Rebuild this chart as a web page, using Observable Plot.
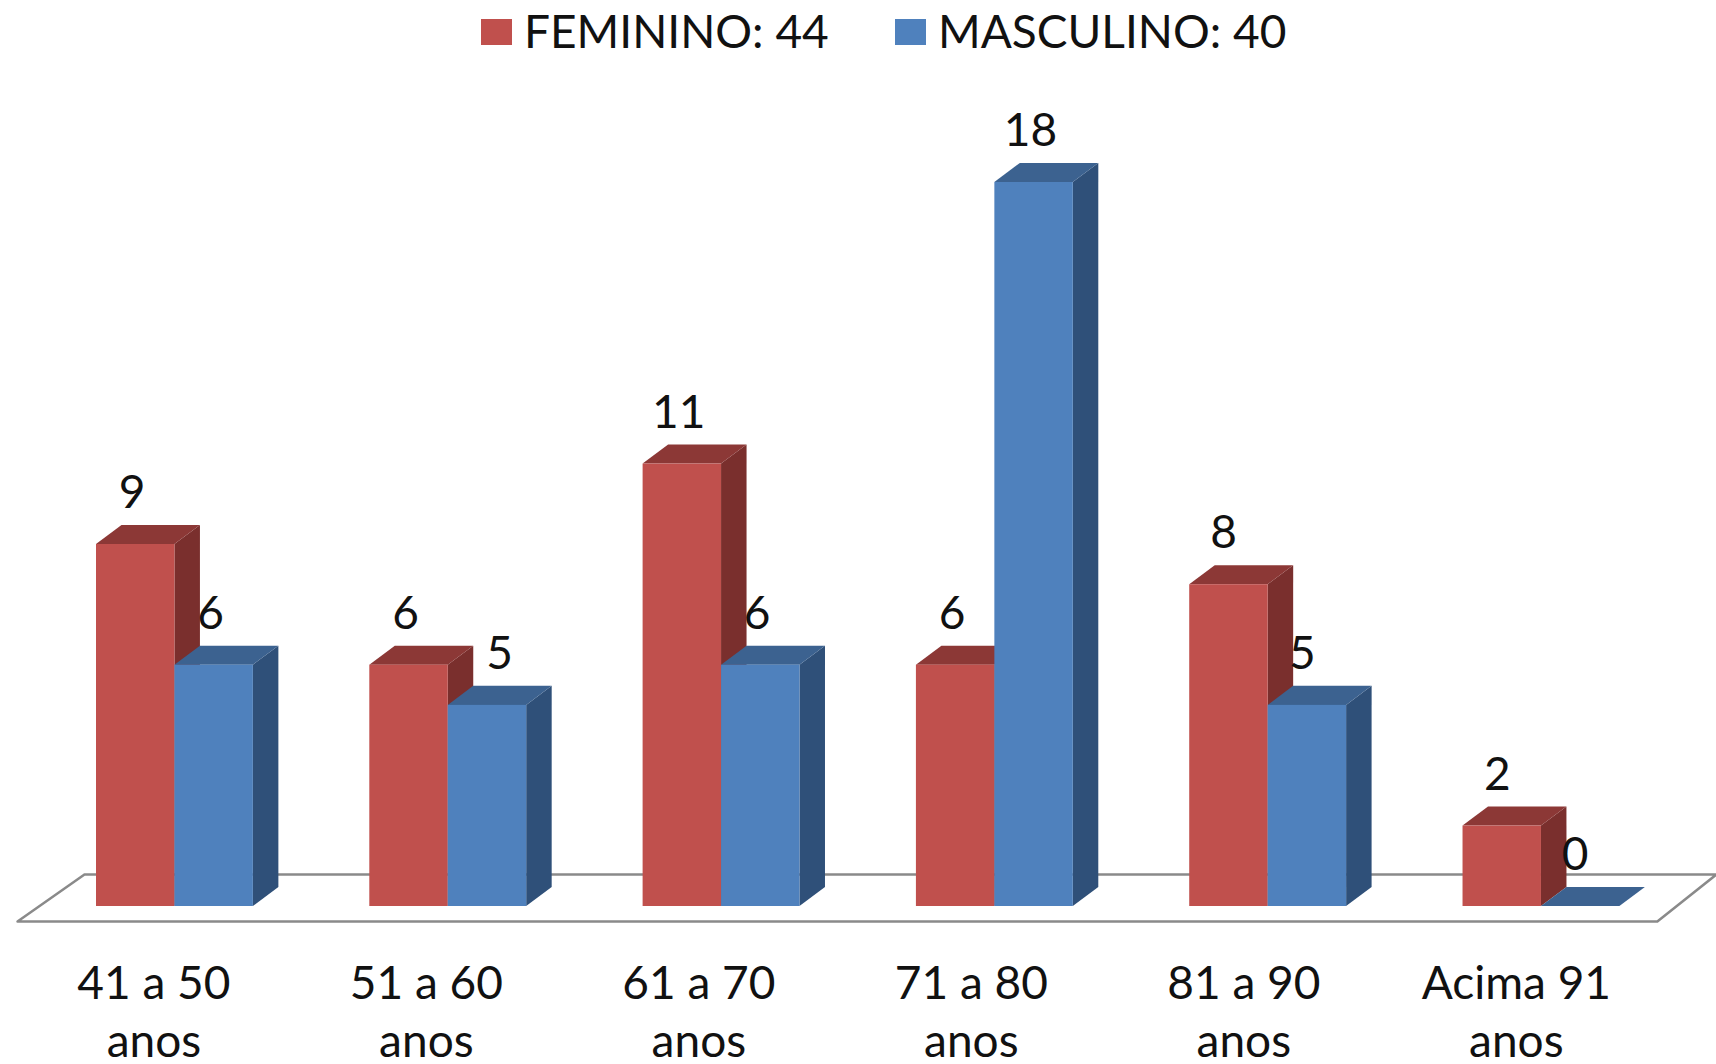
<!DOCTYPE html>
<html lang="pt">
<head>
<meta charset="utf-8">
<script src="https://cdn.jsdelivr.net/npm/d3@7"></script>
<script src="https://cdn.jsdelivr.net/npm/@observablehq/plot@0.6"></script>
<style>
  html, body { margin: 0; padding: 0; background: #fff; overflow: hidden; }
  #legend { position: relative; height: 66px; font-family: Lato, sans-serif; font-size: 46px; color: #111; }
  #legend span { position: absolute; white-space: nowrap; }
  #legend i { position: absolute; top: 19px; width: 31px; height: 26px; }
  svg { display: block; }
</style>
</head>
<body>
<div id="legend"></div>
<div id="chart"></div>
<script>
const categories = ["41 a 50\nanos", "51 a 60\nanos", "61 a 70\nanos", "71 a 80\nanos", "81 a 90\nanos", "Acima 91\nanos"];
const feminino = [9, 6, 11, 6, 8, 2];
const masculino = [6, 5, 6, 18, 5, 0];
const legendLabels = ["FEMININO: 44", "MASCULINO: 40"];

const barW = 0.287, depthX = 0.0933, depthY = 0.473;
const series = [
  {values: feminino, start: 0, front: "#c0504d", top: "#8c3836", side: "#7a2f2d"},
  {values: masculino, start: barW, front: "#4f81bd", top: "#3c6290", side: "#2f5079"}
];
const faces = s => s.values.map((v, g) => ({v, l: g + s.start, r: g + s.start + barW, id: g}));
const sideRows = s => faces(s).flatMap(b => [
  {x: b.r, y1: 0, y2: b.v, id: b.id},
  {x: b.r + depthX, y1: depthY, y2: b.v + depthY, id: b.id}
]);
const topRows = s => faces(s).flatMap(b => [
  {y: b.v, x1: b.l, x2: b.r, id: b.id},
  {y: b.v + depthY, x1: b.l + depthX, x2: b.r + depthX, id: b.id}
]);
const floorPts = [
  {x: -0.0440, y: 0.796}, {x: 5.927, y: 0.796}, {x: 5.711, y: -0.373}, {x: -0.289, y: -0.373}, {x: -0.0440, y: 0.796}
];

const labelShift = [[-0.013, -0.013, -0.013, -0.013, -0.02, -0.018], [-0.013, 0.044, -0.013, -0.013, -0.018, -0.02]];
const labels = series.flatMap((s, i) => s.values.map((v, g) => ({
  v, x: g + s.start + barW / 2 + labelShift[i][g]
})));

const tickPos = categories.map((_, i) => i * 0.997 + 0.21);

const chart = Plot.plot({
  width: 1716, height: 998,
  marginLeft: 96, marginRight: 7.5, marginTop: 116, marginBottom: 158,
  x: {domain: [0, 5.9]},
  y: {domain: [0, 18], axis: null},
  style: {fontFamily: "Lato, sans-serif", background: "#fff"},
  marks: [
    Plot.line(floorPts, {x: "x", y: "y", stroke: "#8a8a8a", strokeWidth: 2.5, fill: "#fff", curve: "linear"}),
    ...series.flatMap(s => [
      Plot.areaY(sideRows(s), {x: "x", y1: "y1", y2: "y2", z: "id", fill: s.side}),
      Plot.areaX(topRows(s), {y: "y", x1: "x1", x2: "x2", z: "id", fill: s.top}),
      Plot.rect(faces(s), {x1: "l", x2: "r", y1: 0, y2: "v", fill: s.front})
    ]),
    Plot.text(labels, {x: "x", y: "v", text: d => String(d.v), dy: -51, fontSize: 46, fill: "#111", lineAnchor: "middle"}),
    Plot.axisX({
      ticks: tickPos,
      tickFormat: (_, i) => categories[i],
      tickSize: 0, tickPadding: 51, fontSize: 46, lineHeight: 1.27, lineAnchor: "top",
      label: null, fill: "#111"
    })
  ]
});
document.getElementById("chart").append(chart);

const legend = document.getElementById("legend");
const legendItems = [
  {label: legendLabels[0], color: series[0].front, swatch: 481, text: 524},
  {label: legendLabels[1], color: series[1].front, swatch: 895, text: 938}
];
for (const it of legendItems) {
  const sw = document.createElement("i");
  sw.style.left = it.swatch + "px";
  sw.style.background = it.color;
  const tx = document.createElement("span");
  tx.textContent = it.label;
  tx.style.left = it.text + "px";
  tx.style.top = "3px";
  legend.append(sw, tx);
}
</script>
</body>
</html>
